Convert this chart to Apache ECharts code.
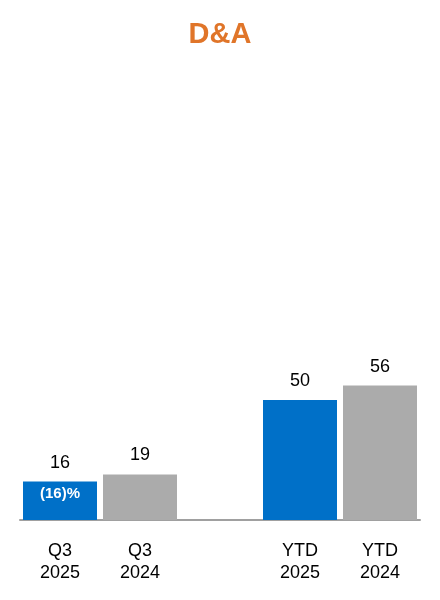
<!DOCTYPE html>
<html>
<head>
<meta charset="utf-8">
<script src="https://cdn.jsdelivr.net/npm/echarts@6/dist/echarts.min.js"></script>
<style>html,body{margin:0;padding:0;background:#fff;}#c{width:440px;height:600px;}</style>
</head>
<body>
<div id="c"></div>
<script>
var categories = ['Q3\n2025', 'Q3\n2024', '', 'YTD\n2025', 'YTD\n2024'];
var values = [16, 19, null, 50, 56];
var changeLabels = ['(16)%', '', '', '', ''];
var barColors = ['#0070C8', '#ABABAB', '#ABABAB', '#0070C8', '#ABABAB'];

var chart = echarts.init(document.getElementById('c'), null, {renderer: 'canvas'});
var font = 'Liberation Sans, Arial, sans-serif';
chart.setOption({
  animation: false,
  title: {
    text: 'D&A', left: 'center', top: 15,
    textStyle: {color: '#E07529', fontSize: 29, fontWeight: 'bold', fontFamily: font}
  },
  grid: {left: 20, right: 20, top: 280, bottom: 80},
  xAxis: {
    type: 'category', data: categories,
    axisLine: {show: true, lineStyle: {color: '#A0A0A0', width: 2}},
    axisTick: {show: false},
    axisLabel: {color: '#000', fontSize: 18, fontFamily: font, margin: 20, lineHeight: 22, interval: 0}
  },
  yAxis: {type: 'value', min: 0, max: 100, show: false, splitLine: {show: false}},
  series: [
    {
      type: 'bar', barWidth: 74,
      data: values.map(function (v, i) { return {value: v, itemStyle: {color: barColors[i]}}; }),
      label: {show: true, position: 'top', distance: 10, color: '#000', fontSize: 18, fontFamily: font}
    },
    {
      type: 'bar', barWidth: 74, barGap: '-100%',
      data: values.map(function (v, i) { return {value: v, label: {formatter: changeLabels[i]}}; }),
      itemStyle: {color: 'rgba(0,0,0,0)'},
      label: {show: true, position: 'insideTop', distance: 5, color: '#fff', fontSize: 15, fontWeight: 'bold', fontFamily: font},
      silent: true
    }
  ]
});
</script>
</body>
</html>
